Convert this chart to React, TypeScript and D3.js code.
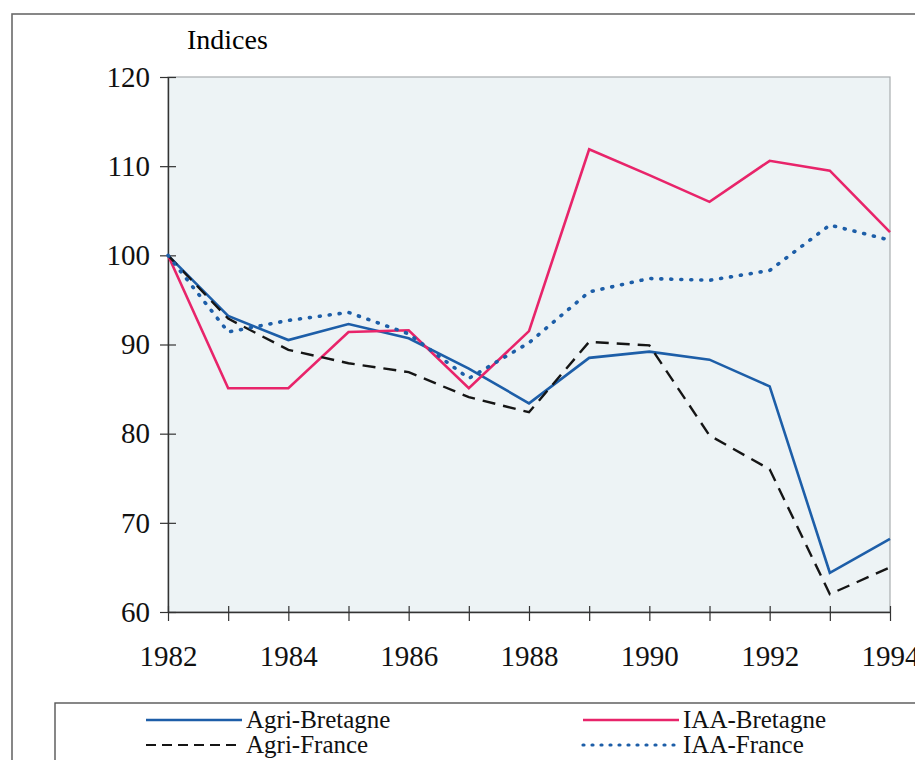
import React, {useEffect, useRef} from 'react';
import * as d3 from 'd3';

const years = [1982, 1983, 1984, 1985, 1986, 1987, 1988, 1989, 1990, 1991, 1992, 1993, 1994];
const agri_bretagne = [100, 93.2, 90.5, 92.3, 90.7, 87.3, 83.4, 88.5, 89.2, 88.3, 85.3, 64.4, 68.2];
const agri_france = [100, 92.9, 89.4, 87.9, 86.9, 84.1, 82.4, 90.3, 89.9, 79.8, 76.0, 62.0, 65.0];
const iaa_bretagne = [100, 85.1, 85.1, 91.4, 91.6, 85.1, 91.5, 111.9, 109.0, 106.0, 110.6, 109.5, 102.6];
const iaa_france = [100, 91.4, 92.7, 93.6, 91.2, 86.2, 90.2, 95.9, 97.4, 97.2, 98.3, 103.4, 101.7];
const y_ticks = [60, 70, 80, 90, 100, 110, 120];
const x_label_years = [1982, 1984, 1986, 1988, 1990, 1992, 1994];

const series = [
  {name: 'Agri-Bretagne', values: agri_bretagne, color: '#1d5ea8', dash: null, width: 2.6},
  {name: 'IAA-Bretagne', values: iaa_bretagne, color: '#e8246a', dash: null, width: 2.6},
  {name: 'Agri-France', values: agri_france, color: '#151515', dash: '13,8', width: 2.4},
  {name: 'IAA-France', values: iaa_france, color: '#1d5ea8', dash: '1,9', width: 3.6},
];

const legend_items = [
  {name: 'Agri-Bretagne', color: '#1d5ea8', dash: null, width: 2.4, col: 0, row: 0},
  {name: 'Agri-France', color: '#151515', dash: '10,6', width: 2.2, col: 0, row: 1},
  {name: 'IAA-Bretagne', color: '#e8246a', dash: null, width: 2.4, col: 1, row: 0},
  {name: 'IAA-France', color: '#1d5ea8', dash: '1,8', width: 3.2, col: 1, row: 1},
];

export default function App() {
  const ref = useRef<SVGSVGElement | null>(null);

  useEffect(() => {
    const svg = d3.select(ref.current);
    svg.selectAll('*').remove();

    const font = 'Liberation Serif, DejaVu Serif, serif';
    const left = 168, right = 890, top = 77, bottom = 612;

    const x_scale = d3.scaleLinear().domain([1982, 1994]).range([left, right]);
    const y_scale = d3.scaleLinear().domain([60, 120]).range([bottom, top]);

    // outer frame
    svg.append('rect')
      .attr('x', 12).attr('y', 14).attr('width', 960).attr('height', 800)
      .attr('fill', 'white').attr('stroke', '#6a6a6a').attr('stroke-width', 1.6);

    // plot background
    svg.append('rect')
      .attr('x', left).attr('y', top)
      .attr('width', right - left).attr('height', bottom - top)
      .attr('fill', '#edf3f5')
      .attr('stroke', '#a8adb0').attr('stroke-width', 1.2);

    svg.append('text')
      .attr('x', 187).attr('y', 49)
      .style('font-family', font).attr('font-size', 28)
      .text('Indices');

    // y axis
    const y_axis = svg.append('g')
      .attr('transform', `translate(${left},0)`)
      .call(d3.axisLeft(y_scale).tickValues(y_ticks).tickSize(0).tickPadding(18).tickFormat(d3.format('d')));
    y_axis.select('.domain').attr('stroke', '#333').attr('stroke-width', 1.4);
    y_axis.selectAll('.tick').append('line')
      .attr('x1', -8).attr('x2', 8).attr('stroke', '#333').attr('stroke-width', 1.2);
    y_axis.selectAll('.tick text')
      .style('font-family', font).attr('font-size', 29).attr('fill', '#111');

    // x axis
    const x_axis = svg.append('g')
      .attr('transform', `translate(0,${bottom})`)
      .call(d3.axisBottom(x_scale).tickValues(years).tickSize(0).tickPadding(33)
        .tickFormat((d) => (x_label_years.includes(+d) ? String(d) : '')));
    x_axis.select('.domain').attr('stroke', '#333').attr('stroke-width', 1.4);
    x_axis.selectAll('.tick').append('line')
      .attr('y1', -6).attr('y2', 9).attr('stroke', '#333').attr('stroke-width', 1.2);
    x_axis.selectAll('.tick text')
      .style('font-family', font).attr('font-size', 29).attr('fill', '#111');

    const line = d3.line<number>()
      .x((_, i) => x_scale(years[i]))
      .y((d) => y_scale(d));

    series.forEach((s) => {
      svg.append('path')
        .datum(s.values)
        .attr('fill', 'none')
        .attr('stroke', s.color)
        .attr('stroke-width', s.width)
        .attr('stroke-dasharray', s.dash)
        .attr('stroke-linecap', s.dash === '1,9' ? 'round' : 'butt')
        .attr('stroke-linejoin', 'miter')
        .attr('d', line);
    });

    // legend
    svg.append('rect')
      .attr('x', 55).attr('y', 703).attr('width', 900).attr('height', 100)
      .attr('fill', 'white').attr('stroke', '#555').attr('stroke-width', 1.4);

    const legend = svg.append('g');
    legend_items.forEach((item) => {
      const x0 = item.col === 0 ? 146 : 583;
      const y0 = item.row === 0 ? 720 : 745;
      legend.append('line')
        .attr('x1', x0).attr('x2', x0 + 96).attr('y1', y0).attr('y2', y0)
        .attr('stroke', item.color).attr('stroke-width', item.width)
        .attr('stroke-dasharray', item.dash)
        .attr('stroke-linecap', item.dash === '1,8' ? 'round' : 'butt');
      legend.append('text')
        .attr('x', x0 + 100).attr('y', y0 + 8)
        .style('font-family', font).attr('font-size', 25).attr('fill', '#111')
        .text(item.name);
    });
  }, []);

  return (
    <div style={{position: 'absolute', left: 0, top: 0, width: 915, height: 760, overflow: 'hidden'}}>
      <svg ref={ref} width={915} height={760}></svg>
    </div>
  );
}
